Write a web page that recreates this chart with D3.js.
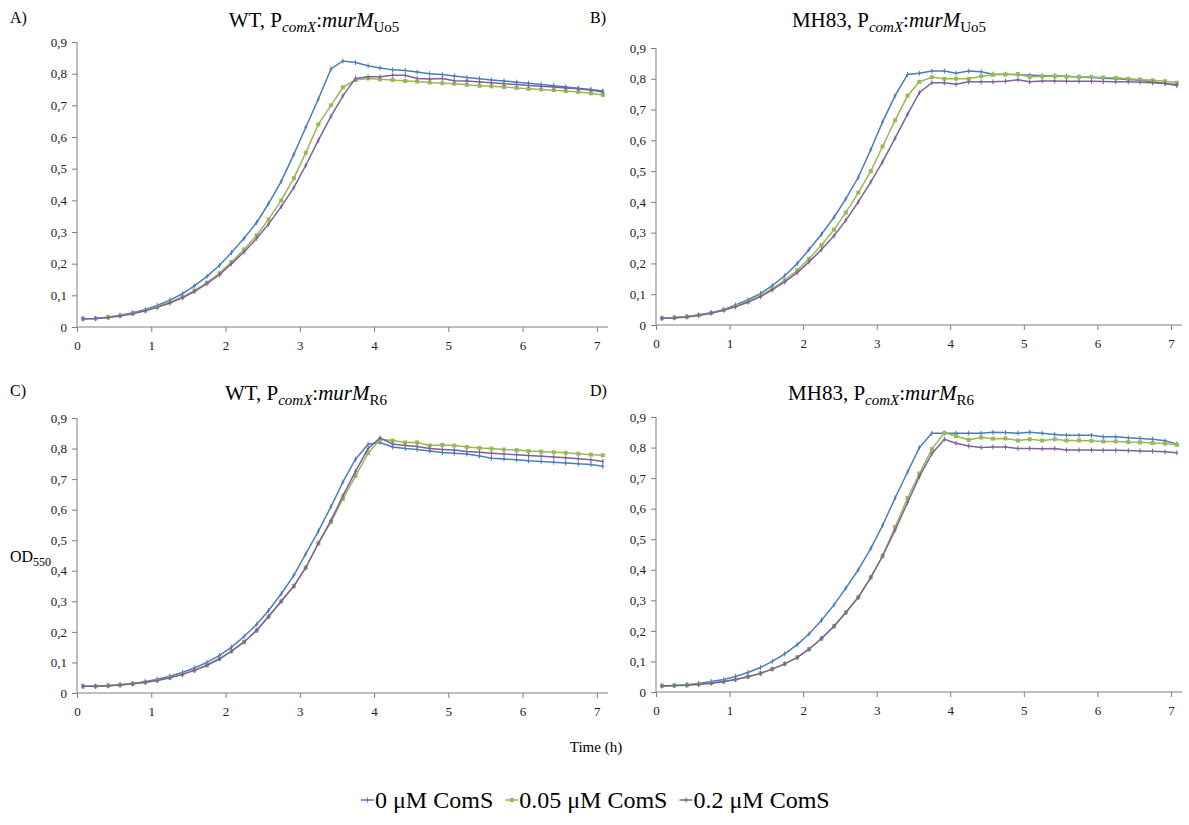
<!DOCTYPE html>
<html>
<head>
<meta charset="utf-8">
<script src="https://cdn.jsdelivr.net/npm/d3@7"></script>
<style>
    body { margin: 0; background: #fff; }
    svg, svg text { font-family: "Liberation Serif", "Times New Roman", serif; }
</style>
</head>
<body>
<svg id="chart" width="1189" height="825"></svg>
<script>

/*
*       Data (OD550, one point every 10 min)
*/

var times = [0.08, 0.25, 0.42, 0.58, 0.75, 0.92, 1.08, 1.25, 1.42, 1.58, 1.75, 1.92,
             2.08, 2.25, 2.42, 2.58, 2.75, 2.92, 3.08, 3.25, 3.42, 3.58, 3.75, 3.92,
             4.08, 4.25, 4.42, 4.58, 4.75, 4.92, 5.08, 5.25, 5.42, 5.58, 5.75, 5.92,
             6.08, 6.25, 6.42, 6.58, 6.75, 6.92, 7.08];

var xTicks = [0, 1, 2, 3, 4, 5, 6, 7];
var yTicks = [0, 0.1, 0.2, 0.3, 0.4, 0.5, 0.6, 0.7, 0.8, 0.9];

var seriesNames = ['0 \u03BCM ComS', '0.05 \u03BCM ComS', '0.2 \u03BCM ComS'];

// A) WT, PcomX:murM Uo5
var wtUo5_0    = [.026,.027,.031,.037,.045,.055, .068,.085,.105,.13,.16,.195, .235,.28,.33,.39,.46,.545,
                  .63,.72,.815,.84,.835,.825, .818,.812,.81,.805,.80,.797, .793,.788,.784,.78,.777,.773,
                  .77,.766,.762,.758,.754,.75, .745];
var wtUo5_005  = [.026,.027,.031,.036,.043,.052, .063,.078,.095,.115,.14,.17, .205,.245,.29,.34,.40,.47,
                  .55,.64,.70,.757,.78,.785, .782,.78,.777,.775,.772,.77, .768,.765,.762,.76,.758,.755,
                  .752,.75,.748,.745,.742,.738, .733];
var wtUo5_02   = [.026,.027,.03,.035,.042,.051, .062,.076,.092,.112,.137,.165, .20,.237,.28,.325,.38,.44,
                  .51,.59,.665,.73,.785,.79, .79,.795,.795,.785,.783,.785, .778,.777,.774,.771,.768,.766,
                  .763,.76,.758,.755,.752,.748, .742];

// B) MH83, PcomX:murM Uo5
var mhUo5_0    = [.022,.024,.027,.033,.04,.05, .065,.082,.102,.128,.16,.20, .245,.295,.35,.41,.48,.57,
                  .66,.745,.814,.818,.825,.825, .818,.825,.823,.815,.815,.813, .812,.81,.81,.808,.806,.804,
                  .802,.80,.798,.795,.79,.785, .778];
var mhUo5_005  = [.022,.024,.027,.032,.039,.049, .061,.076,.095,.118,.145,.178, .215,.26,.31,.365,.43,.50,
                  .58,.665,.745,.79,.805,.80, .80,.80,.808,.813,.814,.815, .806,.808,.808,.807,.806,.806,
                  .804,.803,.80,.798,.795,.792, .787];
var mhUo5_02   = [.022,.023,.026,.031,.038,.048, .059,.074,.092,.114,.14,.17, .205,.245,.29,.34,.40,.465,
                  .53,.607,.685,.755,.787,.787, .782,.79,.79,.79,.792,.797, .79,.793,.793,.792,.792,.792,
                  .791,.79,.79,.789,.787,.785, .781];

// C) WT, PcomX:murM R6
var wtR6_0     = [.022,.022,.024,.027,.031,.037, .045,.055,.067,.082,.10,.123, .15,.185,.225,.27,.325,.385,
                  .455,.53,.61,.69,.765,.814, .82,.805,.80,.797,.792,.787, .785,.782,.776,.768,.766,.763,
                  .76,.758,.755,.753,.75,.748, .742];
var wtR6_005   = [.022,.022,.024,.026,.03,.035, .041,.05,.061,.074,.091,.112, .137,.167,.205,.25,.30,.35,
                  .41,.49,.56,.635,.71,.785, .83,.826,.82,.82,.81,.812, .81,.805,.802,.80,.797,.795,
                  .792,.79,.788,.786,.783,.78, .778];
var wtR6_02    = [.022,.022,.024,.026,.03,.035, .041,.05,.061,.074,.091,.112, .137,.167,.205,.25,.30,.35,
                  .41,.49,.565,.645,.725,.80, .835,.815,.81,.807,.80,.797, .795,.79,.788,.785,.782,.78,
                  .777,.775,.772,.77,.767,.763, .758];

// D) MH83, PcomX:murM R6
var mhR6_0     = [.02,.021,.024,.028,.034,.041, .051,.064,.08,.10,.125,.155, .19,.235,.285,.34,.40,.47,
                  .545,.635,.72,.80,.847,.847, .847,.847,.847,.85,.849,.847, .85,.847,.843,.84,.84,.84,
                  .835,.835,.832,.83,.827,.822, .812];
var mhR6_005   = [.02,.021,.022,.025,.029,.034, .041,.05,.061,.075,.092,.113, .14,.175,.215,.26,.31,.375,
                  .445,.54,.635,.715,.795,.848, .838,.825,.833,.829,.83,.823, .827,.823,.827,.823,.823,.822,
                  .82,.82,.818,.817,.815,.813, .809];
var mhR6_02    = [.02,.021,.022,.025,.029,.034, .041,.05,.061,.075,.092,.113, .14,.175,.215,.26,.31,.375,
                  .445,.53,.62,.705,.78,.827, .814,.805,.80,.802,.802,.797, .797,.796,.797,.792,.792,.792,
                  .791,.791,.79,.789,.788,.786, .783];

/*
*       Layout & styles
*/

var colors = ['#4a7ebb', '#98b954', '#7d60a0'];
var axisColor = '#7f7f7f';
var xMax = 7.15;   // the x axis runs a little past 7 h

// Where each panel sits on the page (pixels)
var panels = [
    { letter: 'A)', strain: 'WT, P',   allele: 'Uo5', series: [wtUo5_0, wtUo5_005, wtUo5_02],
      left: 77,  right: 608,  top: 42,  bottom: 327, letterX: 10,  titleX: 314, titleY: 27 },
    { letter: 'B)', strain: 'MH83, P', allele: 'Uo5', series: [mhUo5_0, mhUo5_005, mhUo5_02],
      left: 656, right: 1182, top: 48,  bottom: 325, letterX: 590, titleX: 889, titleY: 27 },
    { letter: 'C)', strain: 'WT, P',   allele: 'R6',  series: [wtR6_0, wtR6_005, wtR6_02],
      left: 77,  right: 608,  top: 418, bottom: 693, letterX: 10,  titleX: 306, titleY: 400 },
    { letter: 'D)', strain: 'MH83, P', allele: 'R6',  series: [mhR6_0, mhR6_005, mhR6_02],
      left: 656, right: 1182, top: 417, bottom: 692, letterX: 590, titleX: 881, titleY: 400 }
];

var svg = d3.select('#chart');

// Small marker per series: blue/purple "+" ticks, green squares
function drawMarkers(g, pts, i, color){
    if( i === 1 ){
        g.selectAll('rect.m').data(pts).enter().append('rect')
            .attr('x', function(d){ return d[0] - 2; })
            .attr('y', function(d){ return d[1] - 2; })
            .attr('width', 4).attr('height', 4)
            .attr('fill', color);
    } else {
        g.selectAll('path.m').data(pts).enter().append('path')
            .attr('d', function(d){ return 'M' + d[0] + ',' + (d[1] - 2.5) + 'V' + (d[1] + 2.5) +
                                           'M' + (d[0] - 1.5) + ',' + d[1] + 'H' + (d[0] + 1.5); })
            .attr('stroke', color).attr('stroke-width', 1).attr('fill', 'none');
    }
}

/*
*       Panels
*/

panels.forEach(function(p){

    var x = d3.scaleLinear().domain([0, xMax]).range([p.left, p.right]);
    var y = d3.scaleLinear().domain([0, 0.9]).range([p.bottom, p.top]);

    // Y axis (decimal comma, like the original)
    var yAxis = svg.append('g')
        .attr('transform', 'translate(' + p.left + ',0)')
        .call(d3.axisLeft(y).tickValues(yTicks).tickSize(5).tickPadding(5)
              .tickFormat(function(d){ return d === 0 ? '0' : d3.format('.1f')(d).replace('.', ','); }));

    // X axis
    var xAxis = svg.append('g')
        .attr('transform', 'translate(0,' + p.bottom + ')')
        .call(d3.axisBottom(x).tickValues(xTicks).tickSize(5).tickPadding(9).tickFormat(d3.format('d')));

    [yAxis, xAxis].forEach(function(a){
        a.attr('font-family', null).attr('font-size', null);
        a.select('.domain').attr('stroke', axisColor).attr('stroke-width', 1);
        a.selectAll('.tick line').attr('stroke', axisColor);
        a.selectAll('.tick text').attr('fill', '#222')
            .style('font-family', 'Liberation Serif')
            .style('font-size', '13px');
    });
    // plain axis lines, without d3's outer ticks
    yAxis.select('.domain').attr('d', 'M0,' + p.bottom + 'V' + p.top);
    xAxis.select('.domain').attr('d', 'M' + p.left + ',0H' + p.right);

    // Lines
    var line = d3.line()
        .x(function(d){ return x(d[0]); })
        .y(function(d){ return y(d[1]); });

    p.series.forEach(function(vals, i){
        var pts = times.map(function(t, k){ return [t, vals[k]]; });
        var g = svg.append('g');
        g.append('path')
            .datum(pts)
            .attr('d', line)
            .attr('fill', 'none')
            .attr('stroke', colors[i])
            .attr('stroke-width', 1.5);
        drawMarkers(g, pts.map(function(d){ return [x(d[0]), y(d[1])]; }), i, colors[i]);
    });

    // Panel letter
    svg.append('text')
        .attr('x', p.letterX).attr('y', p.titleY - 4)
        .style('font-size', '16px')
        .text(p.letter);

    // Title: strain, P_comX:murM_allele
    var title = svg.append('text')
        .attr('x', p.titleX).attr('y', p.titleY)
        .attr('text-anchor', 'middle')
        .style('font-size', '21px');
    title.append('tspan').text(p.strain);
    title.append('tspan').attr('dy', 5).style('font-size', '15px').style('font-style', 'italic').text('comX');
    title.append('tspan').attr('dy', -5).text(':');
    title.append('tspan').style('font-style', 'italic').text('murM');
    title.append('tspan').attr('dy', 5).style('font-size', '15px').text(p.allele);
});

/*
*       Shared labels & legend
*/

var od = svg.append('text').attr('x', 10).attr('y', 562).style('font-size', '16px');
od.append('tspan').text('OD');
od.append('tspan').attr('dy', 4).style('font-size', '12px').text('550');

svg.append('text')
    .attr('x', 596).attr('y', 752)
    .attr('text-anchor', 'middle')
    .style('font-size', '15px')
    .text('Time (h)');

// Legend: centred row, each entry is a short line + marker + label
var legend = svg.append('g').attr('transform', 'translate(0,800)');
var cursor = 0;
seriesNames.forEach(function(name, i){
    var g = legend.append('g').attr('transform', 'translate(' + cursor + ',0)');
    g.append('line').attr('x1', 0).attr('x2', 13).attr('y1', 0).attr('y2', 0)
        .attr('stroke', colors[i]).attr('stroke-width', 1.5);
    drawMarkers(g, [[6.5, 0]], i, colors[i]);
    var t = g.append('text').attr('x', 14).attr('y', 8)
        .style('font-size', '24px')
        .text(name);
    cursor += 14 + t.node().getComputedTextLength() + 12;
});
legend.attr('transform', 'translate(' + Math.round(595 - (cursor - 12) / 2) + ',800)');

</script>
</body>
</html>
